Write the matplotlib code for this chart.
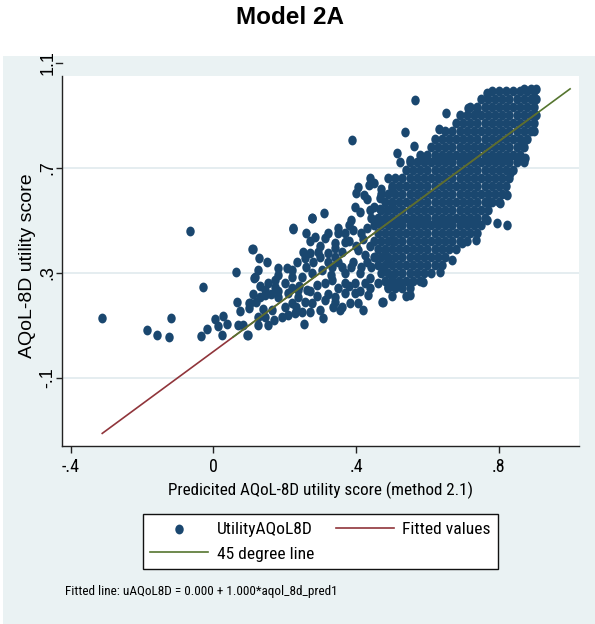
import matplotlib.pyplot as plt
import numpy as np
from matplotlib import font_manager
from matplotlib.markers import MarkerStyle
from matplotlib.transforms import Affine2D
from matplotlib.patches import Rectangle

x_pts = [-0.312, -0.186, -0.158, -0.125, -0.119, -0.067, -0.029, -0.035, -0.019, 0.004,
         0.026, 0.013, 0.025, 0.039, 0.063, 0.065, 0.075, 0.070, 0.084, 0.095,
         0.100, 0.100, 0.109, 0.114,
         0.439, 0.436, 0.406, 0.401, 0.423, 0.471, 0.467, 0.500, 0.397, 0.411,
         0.439, 0.443, 0.467, 0.457, 0.486, 0.500, 0.275, 0.311, 0.222, 0.285,
         0.387, 0.392, 0.415, 0.350, 0.369, 0.313, 0.341, 0.369, 0.111, 0.128,
         0.149, 0.126, 0.116, 0.182, 0.205, 0.233, 0.257, 0.271, 0.294, 0.322,
         0.341, 0.406, 0.425, 0.453, 0.481, 0.490, 0.500, 0.476, 0.443, 0.415,
         0.387, 0.359, 0.331, 0.303, 0.275, 0.247, 0.219, 0.172, 0.154, 0.144,
         0.172, 0.130, 0.102, 0.144, 0.182, 0.210, 0.238, 0.261, 0.289, 0.313,
         0.331, 0.369, 0.397, 0.425, 0.462, 0.490, 0.500, 0.434, 0.472, 0.397,
         0.383, 0.369, 0.341, 0.313, 0.299, 0.308, 0.336, 0.355, 0.420, 0.406,
         0.275, 0.257, 0.247, 0.255, 0.219, 0.200, 0.191, 0.163, 0.144, 0.126,
         0.154, 0.126, 0.096, 0.229, 0.238,
         0.565, 0.651, 0.633, 0.537, 0.516, 0.563, 0.551, 0.523, 0.584, 0.389,
         0.714, 0.738, 0.766, 0.873, 0.867, 0.822, 0.796, 0.768, 0.736, 0.803,
         0.773, 0.822, 0.831, 0.696, 0.551, 0.476, 0.588, 0.635, 0.668, 0.276,
         0.222,
         0.35, 0.37, 0.39, 0.41, 0.43, 0.40, 0.42, 0.38, 0.36, 0.34,
         0.32, 0.30, 0.28, 0.26, 0.33, 0.35, 0.38, 0.41, 0.44, 0.44,
         0.30, 0.32, 0.35, 0.38, 0.43, 0.44, 0.45, 0.43, 0.47, 0.49,
         0.45, 0.24, 0.22, 0.20, 0.18, 0.16, 0.27, 0.29, 0.32, 0.34,
         0.36, 0.27, 0.23, 0.21, 0.17, 0.14, 0.12, 0.11, 0.13, 0.18,
         0.22, 0.25, 0.27, 0.26]
y_pts = [0.127, 0.083, 0.061, 0.055, 0.126, 0.458, 0.247, 0.059, 0.086, 0.124,
         0.136, 0.098, 0.061, 0.106, 0.304, 0.190, 0.155, 0.100, 0.101, 0.061,
         0.183, 0.164, 0.390, 0.279,
         0.660, 0.634, 0.625, 0.605, 0.596, 0.600, 0.583, 0.621, 0.551, 0.532,
         0.539, 0.507, 0.542, 0.501, 0.539, 0.564, 0.507, 0.526, 0.465, 0.437,
         0.501, 0.463, 0.450, 0.450, 0.450, 0.431, 0.412, 0.418, 0.390, 0.357,
         0.340, 0.310, 0.285, 0.317, 0.317, 0.342, 0.355, 0.374, 0.380, 0.374,
         0.393, 0.386, 0.367, 0.361, 0.386, 0.348, 0.425, 0.323, 0.323, 0.323,
         0.323, 0.323, 0.323, 0.310, 0.298, 0.285, 0.285, 0.272, 0.260, 0.234,
         0.247, 0.209, 0.183, 0.215, 0.209, 0.222, 0.209, 0.234, 0.253, 0.260,
         0.272, 0.260, 0.260, 0.260, 0.260, 0.247, 0.285, 0.215, 0.190, 0.222,
         0.183, 0.222, 0.209, 0.196, 0.158, 0.126, 0.170, 0.158, 0.158, 0.183,
         0.183, 0.190, 0.151, 0.105, 0.183, 0.170, 0.132, 0.158, 0.132, 0.132,
         0.101, 0.101, 0.063, 0.145, 0.234,
         0.958, 0.910, 0.846, 0.837, 0.757, 0.783, 0.729, 0.723, 0.742, 0.805,
         0.926, 0.926, 0.983, 0.736, 0.783, 0.482, 0.490, 0.501, 0.425, 0.567,
         0.570, 0.596, 0.679, 0.412, 0.215, 0.190, 0.266, 0.304, 0.348, 0.507,
         0.469,
         0.34, 0.30, 0.34, 0.30, 0.34, 0.40, 0.43, 0.42, 0.38, 0.36,
         0.34, 0.36, 0.34, 0.32, 0.29, 0.24, 0.25, 0.23, 0.24, 0.28,
         0.40, 0.45, 0.47, 0.48, 0.47, 0.40, 0.55, 0.58, 0.62, 0.66,
         0.64, 0.25, 0.24, 0.26, 0.23, 0.22, 0.23, 0.21, 0.22, 0.19,
         0.17, 0.15, 0.17, 0.14, 0.12, 0.16, 0.19, 0.22, 0.25, 0.29,
         0.31, 0.38, 0.42, 0.45]

# the dense cloud at the upper right, read row by row (rows are staggered)
dense_y = [1.00, 0.99, 0.96, 0.93, 0.90, 0.87, 0.84, 0.81, 0.78, 0.75, 0.72, 0.69,
           0.66, 0.63, 0.60, 0.57, 0.54, 0.51, 0.48, 0.45, 0.42, 0.39, 0.36,
           0.33, 0.30, 0.27, 0.24, 0.21]
dense_x = [
    [0.87, 0.89, 0.905],
    [0.78, 0.80, 0.82, 0.84, 0.86, 0.88, 0.90],
    [0.75, 0.77, 0.79, 0.81, 0.83, 0.85, 0.87, 0.89, 0.905],
    [0.72, 0.74, 0.76, 0.78, 0.80, 0.82, 0.84, 0.86, 0.88, 0.90],
    [0.69, 0.71, 0.73, 0.75, 0.77, 0.79, 0.81, 0.83, 0.85, 0.87, 0.89, 0.905],
    [0.68, 0.70, 0.72, 0.74, 0.76, 0.78, 0.80, 0.82, 0.84, 0.86, 0.88, 0.90],
    [0.65, 0.67, 0.69, 0.71, 0.73, 0.75, 0.77, 0.79, 0.81, 0.83, 0.85, 0.87, 0.89, 0.90],
    [0.62, 0.64, 0.66, 0.68, 0.70, 0.72, 0.74, 0.76, 0.78, 0.80, 0.82, 0.84, 0.86, 0.88],
    [0.61, 0.63, 0.65, 0.67, 0.69, 0.71, 0.73, 0.75, 0.77, 0.79, 0.81, 0.83, 0.85, 0.87],
    [0.58, 0.60, 0.62, 0.64, 0.66, 0.68, 0.70, 0.72, 0.74, 0.76, 0.78, 0.80, 0.82, 0.84, 0.86],
    [0.55, 0.57, 0.59, 0.61, 0.63, 0.65, 0.67, 0.69, 0.71, 0.73, 0.75, 0.77, 0.79, 0.81, 0.83, 0.85, 0.87],
    [0.54, 0.56, 0.58, 0.60, 0.62, 0.64, 0.66, 0.68, 0.70, 0.72, 0.74, 0.76, 0.78, 0.80, 0.82, 0.84],
    [0.51, 0.53, 0.55, 0.57, 0.59, 0.61, 0.63, 0.65, 0.67, 0.69, 0.71, 0.73, 0.75, 0.77, 0.79, 0.81, 0.83],
    [0.50, 0.52, 0.54, 0.56, 0.58, 0.60, 0.62, 0.64, 0.66, 0.68, 0.70, 0.72, 0.74, 0.76, 0.78, 0.80, 0.82],
    [0.49, 0.51, 0.53, 0.55, 0.57, 0.59, 0.61, 0.63, 0.65, 0.67, 0.69, 0.71, 0.73, 0.75, 0.77, 0.79, 0.81],
    [0.48, 0.50, 0.52, 0.54, 0.56, 0.58, 0.60, 0.62, 0.64, 0.66, 0.68, 0.70, 0.72, 0.74, 0.76, 0.78, 0.80],
    [0.47, 0.49, 0.51, 0.53, 0.55, 0.57, 0.59, 0.61, 0.63, 0.65, 0.67, 0.69, 0.71, 0.73, 0.75, 0.77],
    [0.46, 0.48, 0.50, 0.52, 0.54, 0.56, 0.58, 0.60, 0.62, 0.64, 0.66, 0.68, 0.70, 0.72, 0.74, 0.76],
    [0.45, 0.47, 0.49, 0.51, 0.53, 0.55, 0.57, 0.59, 0.61, 0.63, 0.65, 0.67, 0.69, 0.71, 0.73, 0.75],
    [0.46, 0.48, 0.50, 0.52, 0.54, 0.56, 0.58, 0.60, 0.62, 0.64, 0.66, 0.68, 0.70, 0.72, 0.74],
    [0.45, 0.47, 0.49, 0.51, 0.53, 0.55, 0.57, 0.59, 0.61, 0.63, 0.65, 0.67, 0.69, 0.71],
    [0.46, 0.48, 0.50, 0.52, 0.54, 0.56, 0.58, 0.60, 0.62, 0.64, 0.66, 0.68],
    [0.45, 0.47, 0.49, 0.51, 0.53, 0.55, 0.57, 0.59, 0.61, 0.63, 0.65],
    [0.46, 0.48, 0.50, 0.52, 0.54, 0.56, 0.58, 0.60, 0.62, 0.64],
    [0.47, 0.49, 0.51, 0.53, 0.55, 0.57, 0.59, 0.61],
    [0.48, 0.50, 0.52, 0.54, 0.56, 0.58],
    [0.49, 0.51, 0.53, 0.55],
    [0.50, 0.54],
]

# fitted line from the note
fit_const = 0.000
fit_slope = 1.000

xticks = [-0.4, 0, 0.4, 0.8]
xtick_labels = ['-.4', '0', '.4', '.8']
yticks = [-0.1, 0.3, 0.7, 1.1]
ytick_labels = ['-.1', '.3', '.7', '1.1']

navy = '#1a476f'
maroon = '#90353b'
green = '#55752f'
bg = '#eaf2f3'
axcol = '#222222'

# the original's horizontal texts are squeezed; use a narrow face if there is one
narrow = 'Liberation Sans'
nscale = 0.82
for fam in ['Roboto Condensed', 'Liberation Sans Narrow']:
    try:
        font_manager.findfont(fam, fallback_to_default=False)
        narrow, nscale = fam, 1.0
        break
    except Exception:
        pass
plt.rcParams['font.family'] = 'Liberation Sans'

x = list(x_pts)
y = list(y_pts)
for yy, row in zip(dense_y, dense_x):
    x += row
    y += [yy] * len(row)
x = np.array(x)
y = np.array(y)

W, H = 595, 624
fig = plt.figure(figsize=(W / 100, H / 100), dpi=100)
fig.add_artist(Rectangle((3 / W, 0), 1, 1 - 56 / H, transform=fig.transFigure,
                         facecolor=bg, edgecolor='none', zorder=0))
fig.text(290 / W, 1 - 18 / H, 'Model 2A', ha='center', va='center',
         fontsize=17.5, fontweight='bold')

ax = fig.add_axes([62.3 / W, (H - 446) / H, (579 - 62.3) / W, (446 - 76) / H])
ax.set_facecolor('white')
ax.set_xlim(-0.424, 1.025)
ax.set_ylim(-0.360, 1.049)

for v in yticks:
    if v < 1.0:
        ax.axhline(v, color='#e3ecef', lw=1.3, zorder=1)

mk = MarkerStyle('o', transform=Affine2D().scale(0.86, 1.0))
sc = ax.scatter(x, y, s=50, marker=mk, color=navy, linewidths=0, zorder=3,
                label='UtilityAQoL8D')

xs = np.array([x.min(), x.max()])
red, = ax.plot(xs, fit_const + fit_slope * xs, color=maroon, lw=1.2, zorder=4,
               label='Fitted values')
ys = np.array([y.min(), y.max()])
grn, = ax.plot(ys, ys, color=green, lw=1.2, zorder=5, label='45 degree line')

for s in ['top', 'right']:
    ax.spines[s].set_visible(False)
for s in ['left', 'bottom']:
    ax.spines[s].set_color(axcol)
    ax.spines[s].set_linewidth(1.0)

ax.set_xticks(xticks)
ax.set_xticklabels(xtick_labels, family=narrow, fontsize=13 * nscale)
ax.tick_params(axis='x', direction='out', length=5, width=1, color=axcol, pad=4)

ax.set_yticks([v for v in yticks if v < 1.0])
ax.set_yticklabels([])
ax.tick_params(axis='y', direction='out', length=4.5, width=1, color=axcol)
# the 1.1 tick sits above the plot area, as in the original
ax.plot([0, -6 / 516.7], [1.1, 1.1], transform=ax.get_yaxis_transform(),
        color=axcol, lw=1, clip_on=False)
for v, lab in zip(yticks, ytick_labels):
    ax.text(-14.5 / 516.7, v, lab, transform=ax.get_yaxis_transform(),
            rotation=90, ha='center', va='center', fontsize=13)

fig.text(28 / W, 1 - 266 / H, 'AQoL-8D utility score', rotation=90,
         ha='center', va='center', fontsize=14)
fig.text(320.5 / W, 1 - 490 / H, 'Predicited AQoL-8D utility score (method 2.1)',
         ha='center', va='center', family=narrow, fontsize=12.3 * nscale)

leg = fig.legend([sc, grn, red], ['UtilityAQoL8D', '45 degree line', 'Fitted values'],
                 ncol=2, loc='center', bbox_to_anchor=(320.5 / W, 1 - 541.5 / H),
                 bbox_transform=fig.transFigure,
                 prop={'family': narrow, 'size': 12.6 * nscale},
                 handlelength=3.3, handletextpad=0.5, columnspacing=1.25,
                 labelspacing=0.55, borderpad=0.4, borderaxespad=0,
                 fancybox=False, framealpha=1,
                 edgecolor='#111111', facecolor='white', scatterpoints=1)
leg.get_frame().set_linewidth(1.0)

fig.text(65 / W, 1 - 592 / H, 'Fitted line: uAQoL8D = 0.000 + 1.000*aqol_8d_pred1',
         ha='left', va='center', family=narrow, fontsize=9.5 * nscale)

fig.savefig('out.png', dpi=100)
